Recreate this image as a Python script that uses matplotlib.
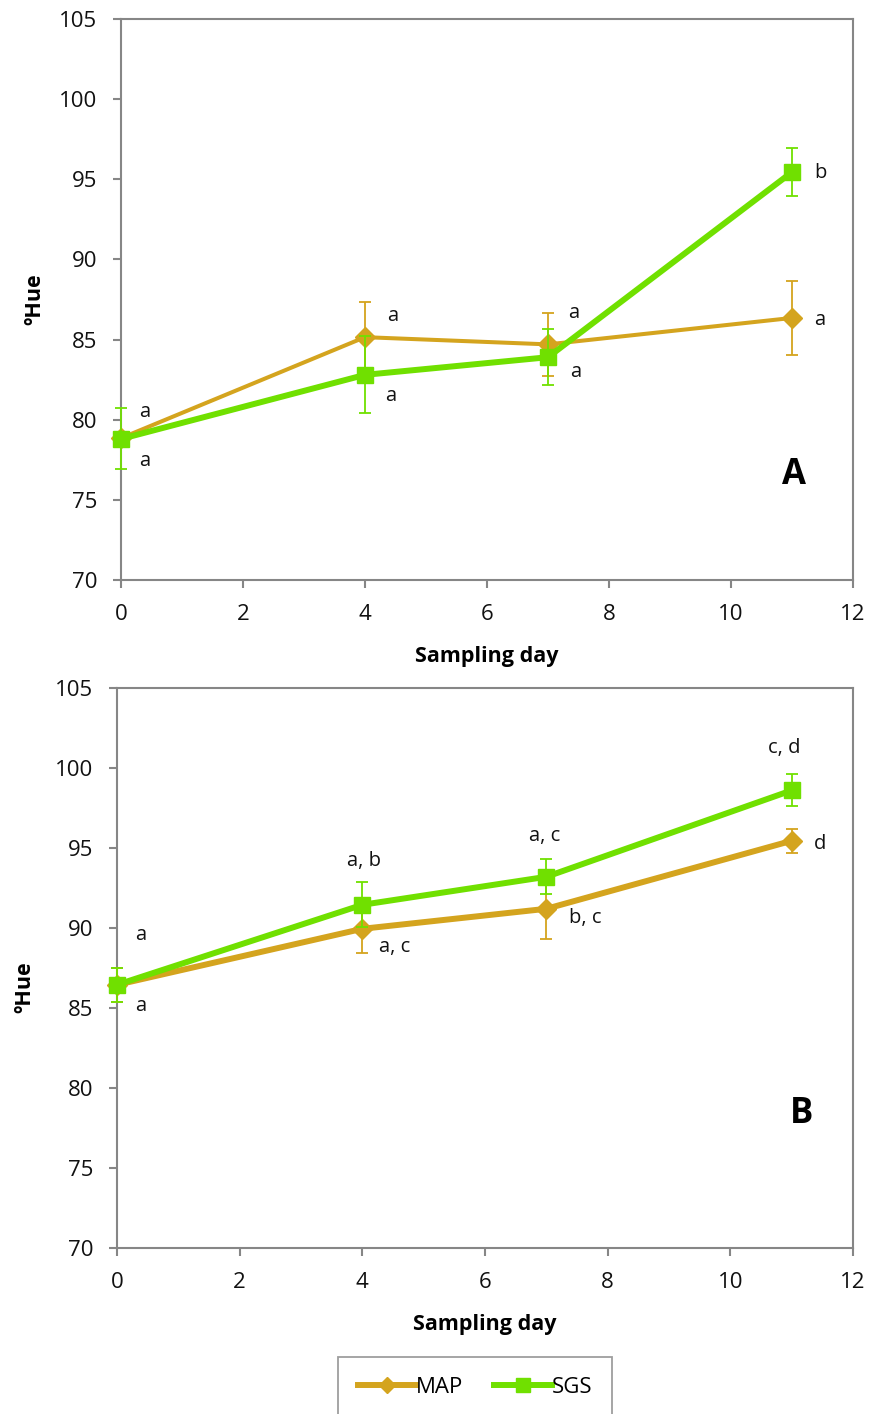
"""
Hue angle of MAP vs SGS over sampling days, panels A and B.
"""

import matplotlib.pyplot as plt
from matplotlib.lines import Line2D

plt.rcParams['font.family'] = ['Open Sans', 'DejaVu Sans']

days = [0, 4, 7, 11]

# Panel A
map_a = [78.85, 85.15, 84.7, 86.35]
map_a_err = [0.3, 2.2, 1.95, 2.3]
sgs_a = [78.8, 82.8, 83.9, 95.45]
sgs_a_err = [1.9, 2.4, 1.75, 1.5]
map_a_letters = ['a', 'a', 'a', 'a']
sgs_a_letters = ['a', 'a', 'a', 'b']

# Panel B
map_b = [86.45, 89.95, 91.2, 95.45]
map_b_err = [1.05, 1.5, 1.9, 0.75]
sgs_b = [86.45, 91.45, 93.2, 98.6]
sgs_b_err = [1.05, 1.4, 1.1, 1.0]
map_b_letters = ['a', 'a, c', 'b, c', 'd']
sgs_b_letters = ['a', 'a, b', 'a, c', 'c, d']

MAP_COLOR = '#D4A41E'
SGS_COLOR = '#70E000'
GREY = '#868686'

# letter offsets in pixels (dx, dy) from each point
off_map_a = [(24, 26), (28, 21), (26, 31), (28, -2)]
off_sgs_a = [(24, -22), (26, -21), (28, -15), (28, -1)]
off_map_b = [(24, -21), (32, -18), (39, -9), (28, -3)]
off_sgs_b = [(24, 50), (2, 44), (-2, 41), (-7, 42)]

fig = plt.figure(figsize=(8.69, 14.14), dpi=100)
ax_a = fig.add_axes([121 / 869, 1 - 580 / 1414, 732 / 869, 561 / 1414])
ax_b = fig.add_axes([117 / 869, 1 - 1248 / 1414, 736 / 869, 560 / 1414])


def draw_panel(ax, map_y, map_e, sgs_y, sgs_e, map_lw, map_l, sgs_l,
               off_m, off_s, tag, tag_xy, ylab_xy):
    eb1 = ax.errorbar(days, map_y, yerr=map_e, color=MAP_COLOR, lw=map_lw,
                      marker='D', ms=10, ecolor=MAP_COLOR, elinewidth=1.3,
                      capsize=4, capthick=1.3, zorder=3)
    eb2 = ax.errorbar(days, sgs_y, yerr=sgs_e, color=SGS_COLOR, lw=4.3,
                      marker='s', ms=11.5, ecolor=SGS_COLOR, elinewidth=1.3,
                      capsize=4, capthick=1.3, zorder=4)
    for eb in (eb1, eb2):
        for art in eb.get_children():
            art.set_clip_on(False)
    for x, y, t, (dx, dy) in zip(days, map_y, map_l, off_m):
        ax.annotate(t, (x, y), xytext=(dx * 0.72, dy * 0.72),
                    textcoords='offset points', ha='center', va='center',
                    fontsize=14.5, color='#111111')
    for x, y, t, (dx, dy) in zip(days, sgs_y, sgs_l, off_s):
        ax.annotate(t, (x, y), xytext=(dx * 0.72, dy * 0.72),
                    textcoords='offset points', ha='center', va='center',
                    fontsize=14.5, color='#111111')
    ax.set_xlim(0, 12)
    ax.set_ylim(70, 105)
    ax.set_xticks(range(0, 13, 2))
    ax.set_yticks(range(70, 106, 5))
    for s in ax.spines.values():
        s.set_color(GREY)
        s.set_linewidth(1.5)
    ax.tick_params(direction='out', length=6, width=1.5, color=GREY,
                   labelsize=16, labelcolor='#111111', pad=11)
    ax.set_xlabel('Sampling day', fontsize=15.5, fontweight='bold')
    ax.xaxis.set_label_coords(0.5, -0.118)
    ax.set_ylabel('ºHue', fontsize=15.5, fontweight='bold')
    ax.yaxis.set_label_coords(*ylab_xy)
    ax.text(tag_xy[0], tag_xy[1], tag, transform=ax.transAxes,
            fontsize=25, fontweight='bold', ha='center', va='center')
    ax.set_facecolor('white')


draw_panel(ax_a, map_a, map_a_err, sgs_a, sgs_a_err, 2.9,
           map_a_letters, sgs_a_letters, off_map_a, off_sgs_a,
           'A', (0.92, 0.188), (-0.103, 0.5))
draw_panel(ax_b, map_b, map_b_err, sgs_b, sgs_b_err, 4.3,
           map_b_letters, sgs_b_letters, off_map_b, off_sgs_b,
           'B', (0.93, 0.24), (-0.111, 0.465))

handles = [
    Line2D([], [], color=MAP_COLOR, lw=4.3, marker='D', ms=8),
    Line2D([], [], color=SGS_COLOR, lw=4.3, marker='s', ms=10),
]
leg = fig.legend(handles, ['MAP', 'SGS'], loc='upper center',
                 bbox_to_anchor=(475 / 869, 1 - 1357 / 1414), ncol=2,
                 fontsize=16, frameon=True, fancybox=False, borderpad=0.9,
                 handlelength=2.6, handletextpad=0.0, columnspacing=1.4,
                 borderaxespad=0)
leg.get_frame().set_edgecolor(GREY)
leg.get_frame().set_linewidth(1.3)

fig.savefig('out.png', dpi=100)
